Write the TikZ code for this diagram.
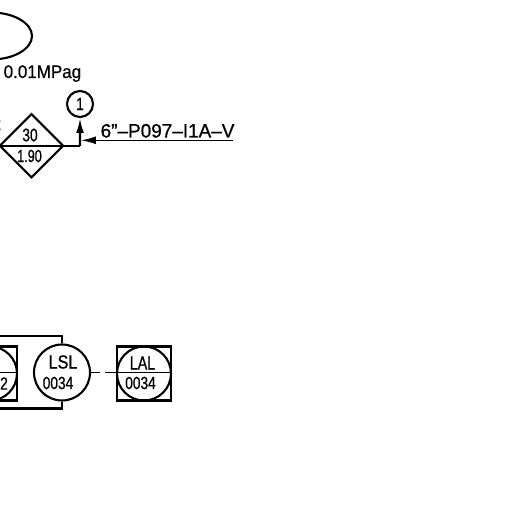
\documentclass[tikz,border=0pt]{standalone}
\usepackage{fontspec}
\setmainfont{Liberation Sans}
\usetikzlibrary{shapes.geometric,arrows.meta}
\newcommand{\cadfont}[2]{\fontsize{#1}{#1}\selectfont\addfontfeature{FakeStretch=#2,FakeBold=0.7}}
\tikzset{
  pipe/.style={black,line width=0.6pt},
  thinpipe/.style={black,line width=0.4pt},
  bubble/.style={circle,draw=black,line width=0.6pt,inner sep=0pt,minimum size=#1},
  tagbox/.style={draw=black,line width=0.6pt,inner sep=0pt,minimum size=#1},
  tagtext/.style={inner sep=0pt,font=\cadfont{5}{0.78}},
  numtext/.style={inner sep=0pt,anchor=base west},
}
\begin{document}
\begin{tikzpicture}[scale=0.1]
  \useasboundingbox (0,0) rectangle (51.2,-51.2);
  \clip (0,0) rectangle (51.2,-51.2);
  % tank end
  \draw [pipe] (-0.9,-3.6) ellipse (4.1 and 2.35);
  \node [numtext,font=\cadfont{5.2}{0.93}] (press) at (0.3,-7.8) {0.01MPag};
  % weir box
  \node [diamond,draw=black,line width=0.6pt,minimum width=0.64cm,minimum height=0.64cm,inner sep=0pt] (weir) at (3.15,-14.58) {};
  \coordinate (bend) at (8,-14.58);
  \draw [pipe] (weir.west) -- (bend);
  \node [tagtext,font=\cadfont{5.2}{0.75}] (weirtop) at (3,-13.5) {30};
  \node [tagtext,font=\cadfont{5}{0.72}] (weirbot) at (2.95,-15.6) {1.90};
  \node [numtext,font=\cadfont{5}{1},anchor=base east] (weirmark) at (0.2,-13) {2};
  \node [bubble=0.26cm] (note) at (8,-10.4) {};
  \node [tagtext] (noteno) at (note) {1};
  \draw [pipe,-{Latex[length=4.2pt,width=2.2pt]}] (bend) -- (note);
  % line number
  \coordinate (lineend) at (23.3,-14.03);
  \coordinate (linein) at (8.1,-14.03);
  \draw [thinpipe,-{Latex[length=4.2pt,width=2.2pt]}] (lineend) -- (linein);
  \node [numtext,font=\cadfont{5.5}{0.98}] (lineno) at (10,-13.75) {6"--P097--I1A--V};
  % switches
  \node [bubble=0.56cm] (lsl) at (6.2,-37.25) {};
  \node [tagtext,font=\cadfont{5.4}{0.85}] (lsltop) at (6.3,-36.2) {LSL};
  \node [tagtext] (lslbot) at (5.8,-38.3) {0034};
  \coordinate (topleft) at (0,-33.6);
  \coordinate (botleft) at (0,-40.85);
  \draw [pipe] (lsl.north) |- (topleft);
  \draw [pipe] (lsl.south) |- (botleft);
  % alarm
  \node [tagbox=0.54cm] (lal) at (14.4,-37.35) {};
  \node [bubble=0.54cm] (lalc) at (14.4,-37.35) {};
  \node [tagtext,font=\cadfont{5.4}{0.75}] (laltop) at (14.25,-36.3) {LAL};
  \node [tagtext] (lalbot) at (14.05,-38.3) {0034};
  \coordinate (lalwest) at (11.7,-37.25);
  \coordinate (laleast) at (17.1,-37.25);
  \draw [thinpipe] (lalwest) -- (laleast);
  \coordinate (gapa) at (10,-37.25);
  \coordinate (gapb) at (10.5,-37.25);
  \draw [thinpipe] (lsl.east) -- (gapa);
  \draw [thinpipe] (gapb) -- (lalwest);
  % neighbour cut by page edge
  \node [tagbox=0.54cm] (lsh) at (-1,-37.35) {};
  \node [bubble=0.54cm] (lshc) at (-1,-37.35) {};
  \coordinate (lshwest) at (0,-37.25);
  \coordinate (lsheast) at (1.6,-37.25);
  \draw [thinpipe] (lshwest) -- (lsheast);
  \node [tagtext,anchor=east] (lshbot) at (0.85,-38.35) {2};
\end{tikzpicture}
\end{document}
